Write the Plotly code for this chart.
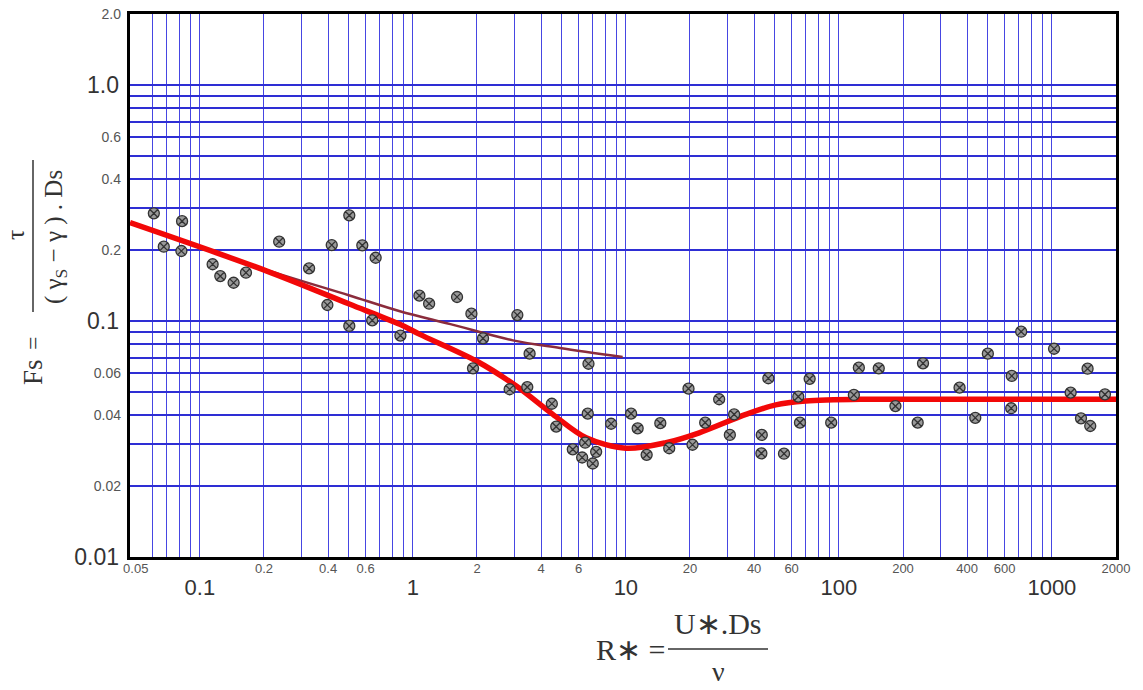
import math
import plotly.graph_objects as go

# ---------------- data ----------------
# measured points (R*, Fs)
pts_x = [0.0608, 0.0677, 0.0825, 0.0819, 0.1148, 0.1247, 0.144, 0.1646, 0.2357, 0.3257,
         0.416, 0.3968, 0.503, 0.5789, 0.6687, 0.503, 0.6447, 0.874, 1.073, 1.192,
         1.612, 1.883, 2.135, 1.916, 3.093, 3.532, 2.847, 3.445, 4.492, 4.71,
         6.674, 6.623, 8.524, 10.58, 11.36, 14.51, 19.68, 5.634, 6.234, 6.439,
         7.252, 6.991, 12.52, 15.98, 20.55, 27.41, 23.57, 32.23, 30.77, 46.65,
         43.45, 43.27, 55.26, 64.49, 65.68, 72.92, 92.04, 117.6, 124.1, 153.9,
         184.3, 234.4, 248.3, 368.6, 436.9, 500.5, 648.2, 644.1, 717.5, 1024,
         1225, 1471, 1370, 1514, 1775]
pts_y = [0.286, 0.2065, 0.265, 0.198, 0.174, 0.155, 0.1453, 0.1602, 0.2168, 0.1673,
         0.2099, 0.1169, 0.2805, 0.2093, 0.1854, 0.0953, 0.1007, 0.0868, 0.1281, 0.1184,
         0.1264, 0.1074, 0.0845, 0.063, 0.106, 0.0727, 0.0514, 0.0525, 0.0446, 0.0357,
         0.0659, 0.0405, 0.0367, 0.0405, 0.0351, 0.0369, 0.0517, 0.0286, 0.0264, 0.0305,
         0.0279, 0.0249, 0.0271, 0.0289, 0.0299, 0.0466, 0.0371, 0.0402, 0.0329, 0.0572,
         0.0329, 0.0275, 0.0274, 0.0478, 0.0371, 0.0569, 0.0371, 0.0486, 0.0634, 0.063,
         0.0436, 0.0371, 0.0662, 0.0522, 0.0389, 0.0727, 0.0585, 0.0427, 0.0901, 0.0763,
         0.0497, 0.0628, 0.0387, 0.0359, 0.0489]

# Shields curve (red)
red_x = [0.047, 0.2064, 0.503, 0.869, 1.078, 1.988, 3.06, 4.54, 6.51, 10.02, 15.43,
         22.1, 36.6, 50.5, 69.8, 128.6, 300, 2000]
red_y = [0.261, 0.1628, 0.118, 0.0968, 0.0878, 0.0677, 0.053, 0.0402, 0.032, 0.0289, 0.0305,
         0.0336, 0.0402, 0.0441, 0.0458, 0.0466, 0.0466, 0.0466]

# second curve (brown)
brown_x = [0.047, 0.2, 0.5, 0.869, 1.5, 2.95, 4.9, 9.66]
brown_y = [0.26, 0.166, 0.1286, 0.110, 0.097, 0.0828, 0.0769, 0.0704]

# grid values
x_grid = [0.06, 0.07, 0.08, 0.09, 0.1, 0.2, 0.3, 0.4, 0.5, 0.6, 0.7, 0.8, 0.9, 1,
          2, 3, 4, 5, 6, 7, 8, 9, 10, 20, 30, 40, 50, 60, 70, 80, 90, 100,
          200, 300, 400, 500, 600, 700, 800, 900, 1000]
y_grid = [0.02, 0.03, 0.04, 0.05, 0.06, 0.07, 0.08, 0.09, 0.1,
          0.2, 0.3, 0.4, 0.5, 0.6, 0.7, 0.8, 0.9, 1.0]

# tick labels
x_small_vals = [0.05, 0.2, 0.4, 0.6, 2, 4, 6, 20, 40, 60, 200, 400, 600, 2000]
x_small_text = ["0.05", "0.2", "0.4", "0.6", "2", "4", "6", "20", "40", "60",
                "200", "400", "600", "2000"]
x_big_vals = [0.1, 1, 10, 100, 1000]
x_big_text = ["0.1", "1", "10", "100", "1000"]
y_small_vals = [0.02, 0.04, 0.06, 0.2, 0.4, 0.6, 2.0]
y_small_text = ["0.02", "0.04", "0.06", "0.2", "0.4", "0.6", "2.0"]
y_big_vals = [0.01, 0.1, 1.0]
y_big_text = ["0.01", "0.1", "1.0"]

# ---------------- layout helpers ----------------
W, H = 1143, 690
L, R, T, B = 130, 27, 14, 133
PW, PH = W - L - R, H - T - B


def px(xp):
    return (xp - L) / PW


def py(yp):
    return (H - B - yp) / PH


XR = [-1.328, math.log10(2000)]
YR = [-2, math.log10(2.0)]
SANS = "Liberation Sans, Arial, sans-serif"
SERIF = "Liberation Serif, Times New Roman, serif"

fig = go.Figure()
fig.add_trace(go.Scatter(x=brown_x, y=brown_y, mode="lines",
                         line=dict(color="#8b2c3c", width=2.5, shape="spline", smoothing=1.0),
                         showlegend=False, hoverinfo="skip"))
fig.add_trace(go.Scatter(x=red_x, y=red_y, mode="lines",
                         line=dict(color="#f20808", width=5.5, shape="spline", smoothing=0.9),
                         showlegend=False, hoverinfo="skip"))
fig.add_trace(go.Scatter(x=pts_x, y=pts_y, mode="markers",
                         marker=dict(symbol="circle-x", size=11, color="#9a9a9a",
                                     line=dict(color="#333333", width=1.3)),
                         showlegend=False))
# invisible traces to carry the label axes
fig.add_trace(go.Scatter(x=[None], y=[None], xaxis="x2", yaxis="y2", showlegend=False))
fig.add_trace(go.Scatter(x=[None], y=[None], xaxis="x3", yaxis="y3", showlegend=False))

base_axis = dict(type="log", showticklabels=False, ticks="", showgrid=True,
                 showline=True, linecolor="black",
                 linewidth=2.5, mirror=True, zeroline=False, automargin=False)

lab_axis = dict(type="log", showgrid=False, ticks="", zeroline=False, showline=False,
                automargin=False)

fig.update_layout(
    width=W, height=H,
    margin=dict(l=L, r=R, t=T, b=B, autoexpand=False),
    paper_bgcolor="white", plot_bgcolor="white",
    xaxis=dict(base_axis, range=XR, tickvals=x_grid, gridcolor="#4646e2", gridwidth=1.4),
    yaxis=dict(base_axis, range=YR, tickvals=y_grid, gridcolor="#2e2ed4", gridwidth=1.6),
    xaxis2=dict(lab_axis, range=XR, overlaying="x", anchor="y", side="bottom",
                tickvals=x_small_vals, ticktext=x_small_text, tickangle=0,
                ticklabelstandoff=2,
                tickfont=dict(family=SANS, size=13, color="#555555")),
    xaxis3=dict(lab_axis, range=XR, overlaying="x", anchor="y", side="bottom",
                tickvals=x_big_vals, ticktext=x_big_text, tickangle=0,
                ticklabelstandoff=15,
                tickfont=dict(family=SANS, size=22, color="#333333")),
    yaxis2=dict(lab_axis, range=YR, overlaying="y", anchor="x", side="left",
                tickvals=y_small_vals, ticktext=y_small_text, ticklabelstandoff=8,
                tickfont=dict(family=SANS, size=14, color="#555555")),
    yaxis3=dict(lab_axis, range=YR, overlaying="y", anchor="x", side="left",
                tickvals=y_big_vals, ticktext=y_big_text, ticklabelstandoff=10,
                tickfont=dict(family=SANS, size=23, color="#333333")),
)

ann = dict(xref="paper", yref="paper", showarrow=False, xanchor="center", yanchor="middle")
tf = dict(family=SERIF, color="#333333")
# y-axis title (rotated fraction)
fig.add_annotation(ann, x=px(33), y=py(372), text="Fs", textangle=-90, font=dict(tf, size=27))
fig.add_annotation(ann, x=px(33), y=py(343), text="=", textangle=-90, font=dict(tf, size=24))
fig.add_annotation(ann, x=px(16), y=py(235), text="τ", textangle=-90, font=dict(tf, size=26))
fig.add_annotation(ann, x=px(56), y=py(237), text="( γ<sub>S</sub> − γ ) . Ds",
                   textangle=-90, font=dict(tf, size=25))
fig.add_shape(type="line", xref="paper", yref="paper", x0=px(33), x1=px(33),
              y0=py(160), y1=py(312), line=dict(color="#333333", width=1.5))
# x-axis title (fraction)
fig.add_annotation(ann, x=px(630), y=py(649), text="R∗ =", font=dict(tf, size=30))
fig.add_annotation(ann, x=px(718), y=py(623), text="U∗.Ds", font=dict(tf, size=30))
fig.add_annotation(dict(ann, yanchor="bottom"), x=px(718), y=py(689), text="ν",
                   font=dict(tf, size=28))
fig.add_shape(type="line", xref="paper", yref="paper", x0=px(668), x1=px(768),
              y0=py(649), y1=py(649), line=dict(color="#333333", width=1.5))

fig.write_html("out.html",
               config={"displayModeBar": False},
               post_script="document.body.style.margin='0';"
                           "document.body.style.overflow='hidden';")
